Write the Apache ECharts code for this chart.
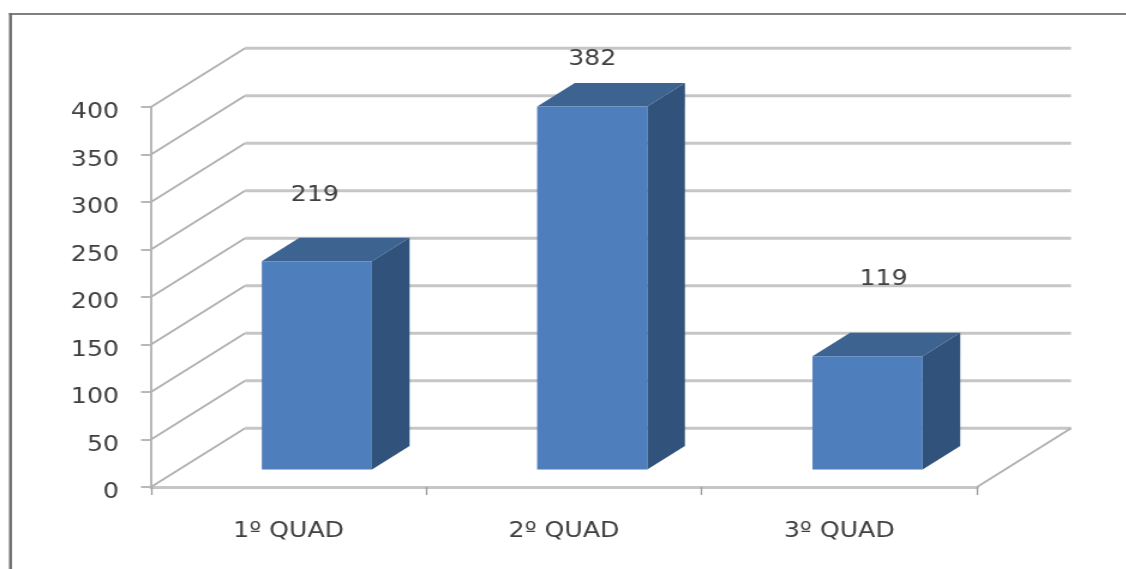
<!DOCTYPE html>
<html>
<head>
<meta charset="utf-8">
<style>
  html, body { margin: 0; padding: 0; background: #fff; overflow: hidden; }
  /* The plot is drawn narrow and widened by 1.2, which also gives the lettering its wide look */
  #chart { width: 938.33px; height: 569px; transform: scaleX(1.2); transform-origin: 0 0; }
</style>
<script src="https://cdn.jsdelivr.net/npm/echarts@6/dist/echarts.min.js"></script>
</head>
<body>
<div id="chart"></div>
<script>
// Chart data
const categories = ['1º QUAD', '2º QUAD', '3º QUAD'];
const values = [219, 382, 119];
const gridValues = [0, 50, 100, 150, 200, 250, 300, 350, 400];

// Horizontal widening applied to the chart element; page x positions are divided by it
const SX = 1.2;

// Oblique projection of the floor: how far the back wall sits from the front plane
const DEPTH_X = 94 / SX;
const DEPTH_Y = -58.7;
const BAR_FRONT = 0.3;   // share of the floor in front of a bar
const BAR_DEPTH = 0.4;   // share of the floor a bar occupies
const BAR_WIDTH = 0.4;   // share of a category band

// Value labels float above their columns, each nudged by hand
const labelShift = [[-2 / SX, -66], [0, -47], [16 / SX, -77]];

const FONT = '"DejaVu Sans", Verdana, sans-serif';
const TEXT = '#404040';

function renderWall(params, api) {
  const cs = params.coordSys;
  const y = api.coord([0, api.value(0)])[1];
  const x0 = cs.x, x1 = cs.x + cs.width;
  const children = [
    { type: 'line', shape: { x1: x0, y1: y, x2: x0 + DEPTH_X, y2: y + DEPTH_Y },
      style: { stroke: '#b0b0b0', lineWidth: 1.7 } },
    { type: 'line', shape: { x1: x0 + DEPTH_X, y1: y + DEPTH_Y, x2: x1 + DEPTH_X, y2: y + DEPTH_Y },
      style: { stroke: '#c6c6c6', lineWidth: 3 } }
  ];
  if (api.value(0) === 0) {
    children.push({ type: 'line', shape: { x1: x1, y1: y, x2: x1 + DEPTH_X, y2: y + DEPTH_Y },
      style: { stroke: '#b0b0b0', lineWidth: 1.7 } });
  }
  return { type: 'group', children };
}

function renderColumn(params, api) {
  const i = api.value(0);
  const v = api.value(1);
  const base = api.coord([i, 0]);
  const top = api.coord([i, v]);
  const w = api.size([1, 0])[0] * BAR_WIDTH;
  const fx = DEPTH_X * BAR_FRONT, fy = DEPTH_Y * BAR_FRONT;
  const bx = DEPTH_X * BAR_DEPTH, by = DEPTH_Y * BAR_DEPTH;
  const l = base[0] - w / 2 + fx, r = l + w;
  const yb = base[1] + fy, yt = top[1] + fy;
  const shift = labelShift[i];
  return {
    type: 'group',
    children: [
      { type: 'polygon', shape: { points: [[r, yt], [r + bx, yt + by], [r + bx, yb + by], [r, yb]] },
        style: { fill: '#31527a' } },
      { type: 'polygon', shape: { points: [[l, yt], [l + bx, yt + by], [r + bx, yt + by], [r, yt]] },
        style: { fill: '#3d6491' } },
      { type: 'rect', shape: { x: l, y: yt, width: w, height: yb - yt },
        style: { fill: '#4e7fbc' } },
      { type: 'text', x: (l + r) / 2 + shift[0], y: yt + shift[1],
        style: { text: String(v), fill: TEXT, font: '21px ' + FONT, align: 'center', verticalAlign: 'middle' } }
    ]
  };
}

const chart = echarts.init(document.getElementById('chart'), null, { renderer: 'canvas' });
chart.setOption({
  animation: false,
  backgroundColor: '#ffffff',
  graphic: [
    // Outer frame of the chart area
    { type: 'rect', shape: { x: 9 / SX, y: 13, width: 1117 / SX, height: 2 }, style: { fill: '#808080' } },
    { type: 'rect', shape: { x: 9 / SX, y: 13, width: 3 / SX, height: 556 }, style: { fill: '#707070' } }
  ],
  grid: { left: 151 / SX, top: 107, width: 826 / SX, height: 380 },
  xAxis: {
    type: 'category',
    data: categories,
    axisLine: { lineStyle: { color: '#c6c6c6', width: 3 } },
    axisTick: { show: true, alignWithLabel: false, length: 8, lineStyle: { color: '#9a9a9a', width: 1.3 } },
    axisLabel: { color: TEXT, fontFamily: FONT, fontSize: 21, margin: 34 }
  },
  yAxis: {
    type: 'value',
    min: 0,
    max: 400,
    interval: 50,
    splitLine: { show: false },
    axisLine: { show: true, lineStyle: { color: '#ababab', width: 1.7 } },
    axisTick: { show: true, length: 10 / SX, lineStyle: { color: '#b8b8b8', width: 2 } },
    axisLabel: { color: TEXT, fontFamily: FONT, fontSize: 21, margin: 32 / SX, verticalAlign: 'top', lineHeight: 12 }
  },
  series: [
    {
      type: 'custom',
      silent: true,
      renderItem: renderWall,
      encode: { y: 0 },
      data: gridValues.map(v => [v]),
      z: 1
    },
    {
      type: 'custom',
      silent: true,
      renderItem: renderColumn,
      encode: { x: 0, y: 1 },
      data: values.map((v, i) => [i, v]),
      z: 3
    }
  ]
});
</script>
</body>
</html>
